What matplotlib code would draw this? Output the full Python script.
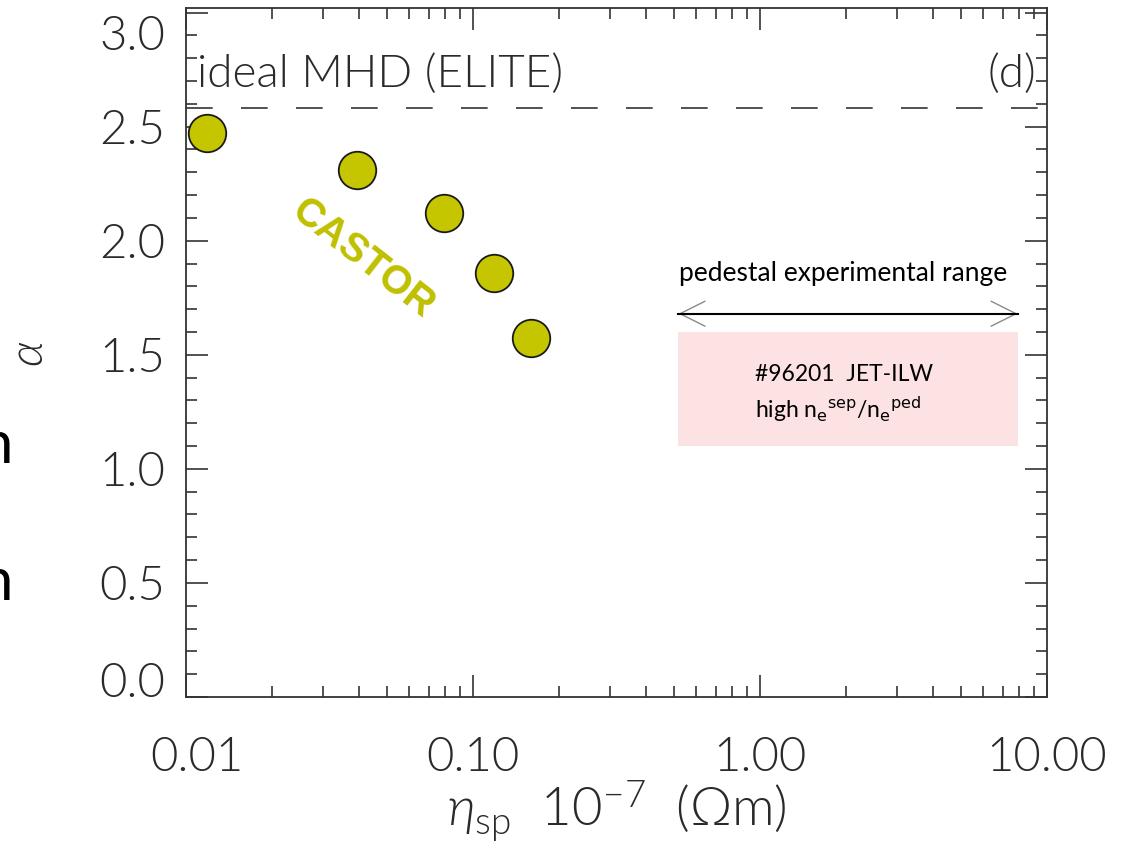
import numpy as np
import matplotlib.pyplot as plt
import matplotlib.transforms as mtransforms
from matplotlib.ticker import FixedLocator, NullFormatter

plt.rcParams['font.family'] = ['Lato', 'DejaVu Sans']
plt.rcParams['mathtext.fontset'] = 'custom'
plt.rcParams['mathtext.rm'] = 'Lato:weight=300'
plt.rcParams['mathtext.it'] = 'Lato:italic:weight=300'
plt.rcParams['mathtext.fallback'] = 'stixsans'

# CASTOR points
eta = [0.0118, 0.0395, 0.079, 0.118, 0.159]
alpha = [2.47, 2.31, 2.12, 1.86, 1.575]

# ideal MHD (ELITE) limit
alpha_elite = 2.58

# pedestal experimental range
range_lo, range_hi = 0.52, 7.9
box_lo, box_hi = 1.10, 1.60
arrow_y = 1.68

xticks = [0.01, 0.1, 1.0, 10.0]
xticklabels = ['0.01', '0.10', '1.00', '10.00']
yticks = [0.0, 0.5, 1.0, 1.5, 2.0, 2.5, 3.0]
ytop = 3.02

fig = plt.figure(figsize=(11.26, 8.55), dpi=100)
ax = fig.add_axes([186 / 1126, 1 - 697 / 855, (1047 - 186) / 1126, (697 - 8) / 855])

ax.set_xscale('log')
ax.set_xlim(0.01, 10)
ax.set_ylim(0, ytop)

TXT = '#2a2a2a'
LIGHT = 300

# pink band and arrow
ax.axvspan(range_lo, range_hi, ymin=box_lo / ytop, ymax=box_hi / ytop,
           facecolor='#fde2e4', edgecolor='none', zorder=1)
ax.annotate('', xy=(range_lo, arrow_y), xytext=(range_hi, arrow_y),
            arrowprops=dict(arrowstyle='<->,head_length=0.9,head_width=0.45',
                            color='#8a8a8a', lw=1, mutation_scale=20,
                            shrinkA=0, shrinkB=0), zorder=2)
ax.plot([range_lo, range_hi], [arrow_y, arrow_y], color='black', lw=1.5, zorder=3)

ax.text(np.sqrt(range_lo * range_hi) * 0.96, 1.855, 'pedestal experimental range',
        ha='center', va='center', fontsize=19, color='black')
ax.text(0.96, 1.415, '#96201  JET-ILW', ha='left', va='center', fontsize=16.5)
ax.text(0.96, 1.26, r'high n$_\mathrm{e}$$^\mathrm{sep}$/n$_\mathrm{e}$$^\mathrm{ped}$',
        ha='left', va='center', fontsize=16.5, family=['Lato'],
        math_fontfamily='dejavusans')

# ELITE line
ax.axhline(alpha_elite, color='#333333', lw=1.2, dashes=(16, 17), zorder=2)
ax.text(0.0109, 2.675, 'ideal MHD (ELITE)', fontsize=33, fontweight=LIGHT,
        color=TXT, ha='left', va='baseline')
ax.text(9.15, 2.675, '(d)', fontsize=33, fontweight=LIGHT,
        color=TXT, ha='right', va='baseline')

# CASTOR
ax.plot(eta, alpha, 'o', ms=27, markerfacecolor='#c6c600',
        markeredgecolor='#1a1a1a', markeredgewidth=1.3, zorder=4)
ax.text(0.0415, 1.92, 'CASTOR', rotation=-38, fontsize=29, fontweight='bold',
        color='#bfc000', ha='center', va='center', family=['Liberation Sans'])

# axes styling
for s in ax.spines.values():
    s.set_color('#333333')
    s.set_linewidth(1.3)

ax.xaxis.set_major_locator(FixedLocator(xticks))
ax.set_xticklabels(xticklabels)
minors = [m * d for d in [0.01, 0.1, 1.0] for m in range(2, 10)]
ax.xaxis.set_minor_locator(FixedLocator(minors))
ax.xaxis.set_minor_formatter(NullFormatter())
ax.yaxis.set_major_locator(FixedLocator(yticks))
ax.set_yticklabels(['%.1f' % v for v in yticks])
ax.yaxis.set_minor_locator(FixedLocator(np.arange(0, 3.01, 0.1)))

ax.tick_params(which='both', direction='in', top=True, right=True,
               color='#333333', width=1.2)
ax.tick_params(which='major', length=16)
ax.tick_params(which='minor', length=8)
ax.tick_params(axis='x', which='major', pad=29, labelsize=34, labelcolor=TXT)
ax.tick_params(axis='y', which='major', pad=15, labelsize=34, labelcolor=TXT)
for lab in ax.get_xticklabels() + ax.get_yticklabels():
    lab.set_fontweight(LIGHT)

# end labels nudged inside, as in the original
def nudge(tick, dx, dy):
    t = tick.label1
    t.set_transform(t.get_transform() +
                    mtransforms.ScaledTranslation(dx / 100, dy / 100, fig.dpi_scale_trans))

yt = ax.yaxis.get_major_ticks()
nudge(yt[0], 0, 17)
nudge(yt[-1], 0, -20)
nudge(ax.xaxis.get_major_ticks()[0], 11, 0)

ax.set_xlabel(r'$\eta_{\mathrm{sp}}$  10$^{-7}$  (Ωm)', fontsize=38,
              fontweight=LIGHT, color=TXT, labelpad=0)
fig.text(30 / 1126, 1 - 354 / 855, r'$\alpha$', rotation=90, fontsize=34,
         ha='center', va='center', color=TXT)

# cropped text at left edge
fig.text(13 / 1126, 1 - 463 / 855, 'n', fontsize=43, ha='right', va='baseline')
fig.text(13 / 1126, 1 - 600 / 855, 'n', fontsize=43, ha='right', va='baseline')

fig.savefig('out.png', dpi=100)
